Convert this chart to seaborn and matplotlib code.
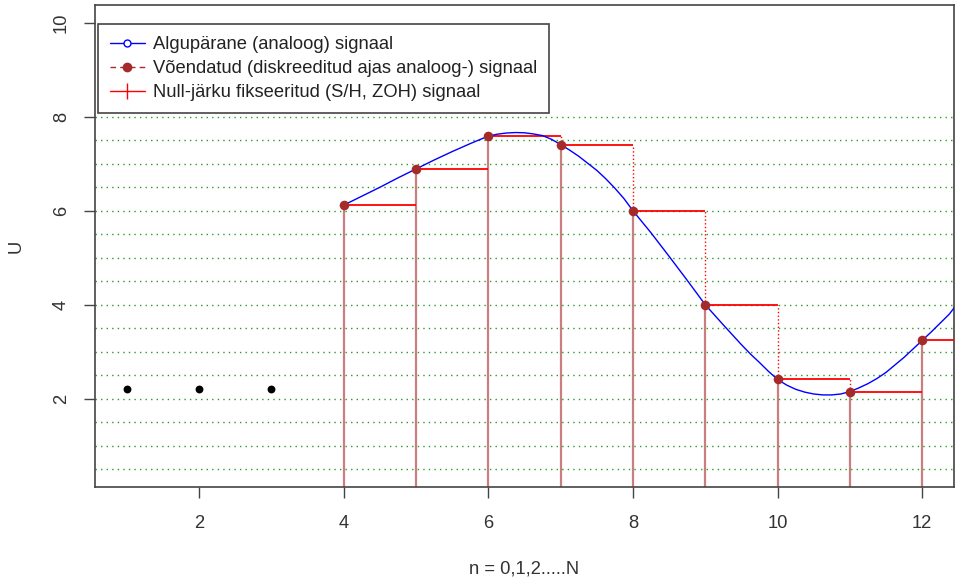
import numpy as np
import pandas as pd
import matplotlib
matplotlib.use("Agg")
import matplotlib.pyplot as plt
import seaborn as sns
from matplotlib.lines import Line2D

# Algupärane (analoog) signaal - loetud pildilt
curve_t = [4.0, 4.25, 4.5, 4.75, 5.0, 5.25, 5.5, 5.75, 6.0, 6.125, 6.25, 6.375,
           6.5, 6.625, 6.75, 6.875, 7.0, 7.125, 7.25, 7.375, 7.5, 7.625, 7.75,
           7.875, 8.0, 8.25, 8.5, 8.75, 9.0, 9.25, 9.5, 9.625, 9.75, 9.875,
           10.0, 10.125, 10.25, 10.375, 10.5, 10.625, 10.75, 10.875, 11.0,
           11.125, 11.25, 11.375, 11.5, 11.625, 11.75, 11.875, 12.0, 12.125,
           12.25, 12.375, 12.5]
curve_u = [6.12, 6.31, 6.50, 6.70, 6.89, 7.08, 7.26, 7.43, 7.59, 7.63, 7.655, 7.665,
           7.66, 7.635, 7.60, 7.52, 7.41, 7.29, 7.16, 7.01, 6.86, 6.68, 6.48,
           6.26, 6.00, 5.53, 5.03, 4.52, 4.00, 3.57, 3.15, 2.95, 2.77, 2.58,
           2.41, 2.29, 2.20, 2.14, 2.10, 2.08, 2.08, 2.10, 2.15,
           2.23, 2.32, 2.43, 2.56, 2.72, 2.88, 3.06, 3.24, 3.42,
           3.61, 3.80, 4.05]

# Võendatud signaal (n = 4..12)
sample_n = [4, 5, 6, 7, 8, 9, 10, 11, 12]
sample_u = [6.12, 6.89, 7.60, 7.41, 6.00, 3.99, 2.41, 2.15, 3.24]

# mustad punktid algul
black_n = [1, 2, 3]
black_u = [2.2, 2.2, 2.2]

XLIM = (0.56, 12.44)
YLIM = (0.12, 10.38)
FS = 13.2

sns.set_style("ticks")
plt.rcParams['font.family'] = ['Liberation Sans', 'DejaVu Sans']

fig = plt.figure(figsize=(9.55, 5.78), dpi=100)
ax = fig.add_axes([95 / 955, 1 - 487 / 578, 859 / 955, 482 / 578])

# rohelised punktiirjooned
for lvl in np.arange(0.5, 8.01, 0.5):
    ax.axhline(lvl, color="#2a9a2a", linestyle=(0, (1, 3)), lw=1.0, zorder=0)

samples = pd.DataFrame({"n": sample_n, "u": sample_u})

# ZOH: vertikaalsed jooned põhjast
ax.vlines(samples["n"], YLIM[0], samples["u"], color="#A52A2A", alpha=0.6, lw=1.6, zorder=2)

# ZOH: horisontaalsed astmed
ax.hlines(samples["u"], samples["n"], samples["n"] + 1, color="red", lw=1.3, zorder=3)

# punktiir langevatel astmetel
nxt = samples["u"].shift(-1)
fall = samples[nxt < samples["u"]]
ax.vlines(fall["n"] + 1, nxt[fall.index], fall["u"], color="red", linestyle=":", lw=1.0, zorder=3)

curve = pd.DataFrame({"t": curve_t, "u": curve_u})
sns.lineplot(data=curve, x="t", y="u", ax=ax, color="blue", lw=1.0, sort=False, zorder=4)

sns.scatterplot(data=samples, x="n", y="u", ax=ax, color="#A52A2A", s=48,
                edgecolor="#A52A2A", linewidth=0, zorder=5)
sns.scatterplot(x=black_n, y=black_u, ax=ax, color="black", s=32, linewidth=0, zorder=5)

ax.set_xlim(*XLIM)
ax.set_ylim(*YLIM)
ax.set_xticks([2, 4, 6, 8, 10, 12])
ax.set_yticks([2, 4, 6, 8, 10])
ax.tick_params(axis="both", length=8, width=1, color="#444444", labelcolor="#333333",
               labelsize=FS)
ax.tick_params(axis="x", pad=12)
ax.tick_params(axis="y", pad=10)
for lab in ax.get_yticklabels():
    lab.set_rotation(90)
    lab.set_va("center")
for sp in ax.spines.values():
    sp.set_visible(True)
    sp.set_color("#444444")
    sp.set_linewidth(1.2)

ax.set_xlabel("n = 0,1,2.....N", fontsize=FS, color="#333333")
ax.set_ylabel("U", fontsize=FS, color="#333333")
ax.xaxis.set_label_coords(0.5, -0.152)
ax.yaxis.set_label_coords(-0.0815, 0.5)

handles = [
    Line2D([], [], color="blue", lw=1.0, marker="o", markersize=5,
           markerfacecolor="white", markeredgecolor="blue"),
    Line2D([], [], color="#A52A2A", lw=1.0, linestyle=(0, (4, 3)), marker="o",
           markersize=6, markerfacecolor="#A52A2A", markeredgecolor="#A52A2A"),
    Line2D([], [], color="red", lw=1.0, marker="|", markersize=12, markeredgewidth=1.0),
]
labels = [
    "Algupärane (analoog) signaal",
    "Võendatud (diskreeditud ajas analoog-) signaal",
    "Null-järku fikseeritud (S/H, ZOH) signaal",
]
leg = ax.legend(handles, labels, loc="upper left", bbox_to_anchor=(0.0035, 0.96),
                borderaxespad=0, fontsize=FS, frameon=True, fancybox=False,
                framealpha=1, edgecolor="#444444", handlelength=1.9,
                handletextpad=0.45, labelspacing=0.38, borderpad=0.65)
leg.get_frame().set_linewidth(1.2)
for t in leg.get_texts():
    t.set_color("#222222")

fig.savefig("out.png", dpi=100)
